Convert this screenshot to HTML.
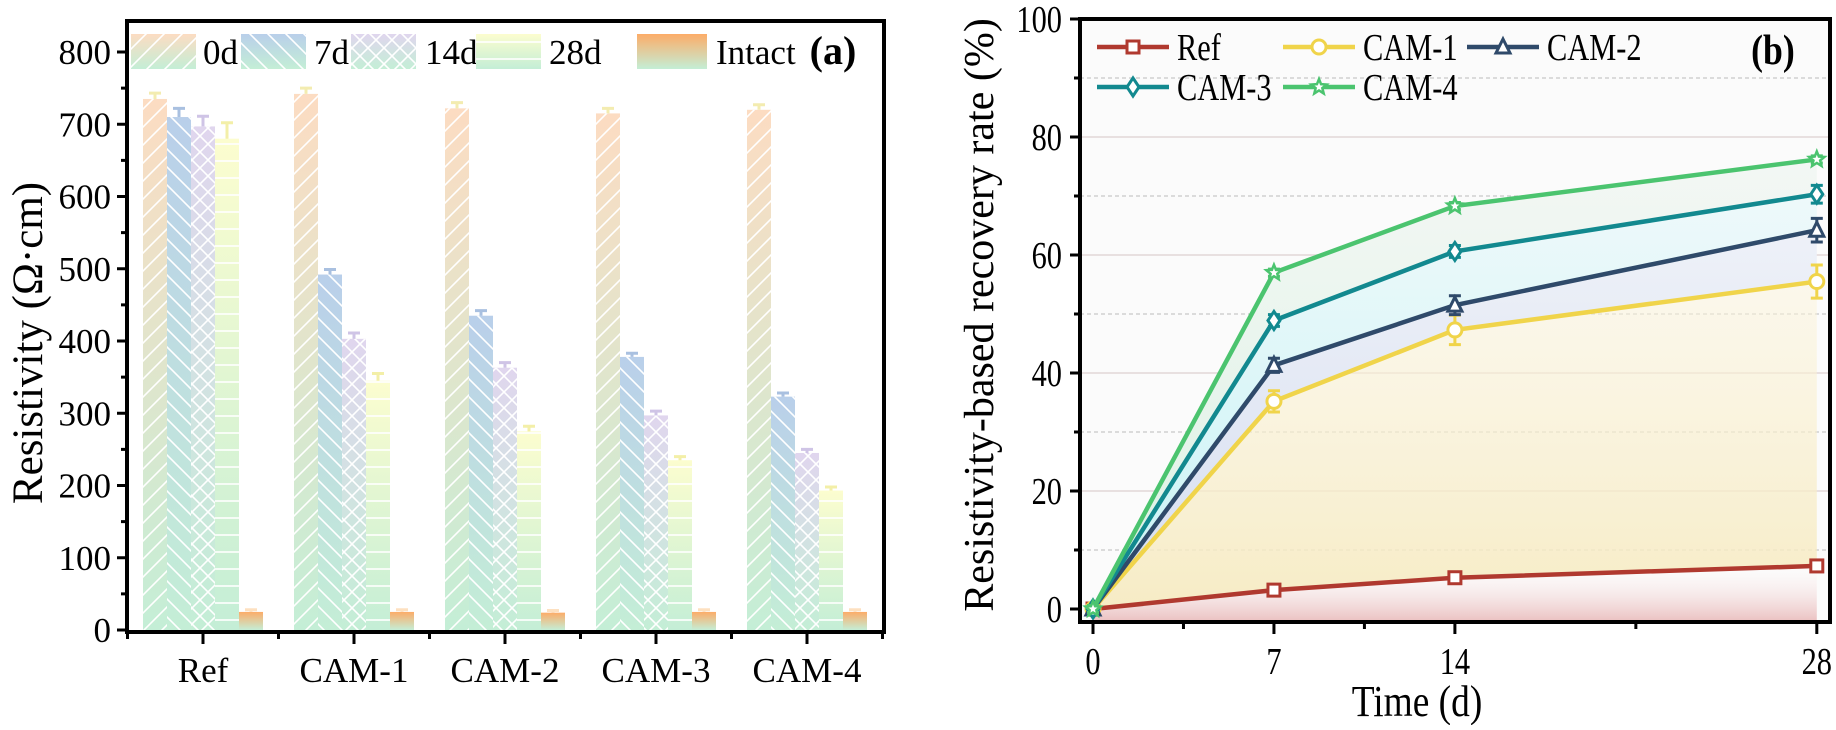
<!DOCTYPE html>
<html><head><meta charset="utf-8"><style>
html,body{margin:0;padding:0;background:#fff;}
svg, svg text{font-family:"Liberation Serif","DejaVu Serif",serif;}
</style></head><body>
<svg id="chart" width="1836" height="725" viewBox="0 0 1836 725" xmlns="http://www.w3.org/2000/svg" font-family="Liberation Serif, DejaVu Serif, serif">
<defs>
<linearGradient id="g0" x1="0" y1="0" x2="0" y2="1"><stop offset="0" stop-color="#fcdcc2"/><stop offset="1" stop-color="#c4eed6"/></linearGradient>
<linearGradient id="g1" x1="0" y1="0" x2="0" y2="1"><stop offset="0" stop-color="#b9cfea"/><stop offset="1" stop-color="#c4eed6"/></linearGradient>
<linearGradient id="g2" x1="0" y1="0" x2="0" y2="1"><stop offset="0" stop-color="#e0d6ee"/><stop offset="1" stop-color="#c4eed6"/></linearGradient>
<linearGradient id="g3" x1="0" y1="0" x2="0" y2="1"><stop offset="0" stop-color="#fcfdcf"/><stop offset="1" stop-color="#c4eed6"/></linearGradient>
<linearGradient id="g4" x1="0" y1="0" x2="0" y2="1"><stop offset="0" stop-color="#fcac68"/><stop offset="1" stop-color="#c4eed6"/></linearGradient>
<pattern id="p0" patternUnits="userSpaceOnUse" width="18" height="18"><path d="M-2,20 L20,-2 M-20,20 L2,-2" stroke="#fff" stroke-width="1.6"/><path d="M16,20 L38,-2" stroke="#fff" stroke-width="1.6"/></pattern>
<pattern id="p1" patternUnits="userSpaceOnUse" width="18" height="18"><path d="M-2,-2 L20,20 M16,-2 L38,20 M-20,-2 L2,20" stroke="#fff" stroke-width="1.6"/></pattern>
<pattern id="p2" patternUnits="userSpaceOnUse" width="16" height="16"><path d="M-2,-2 L18,18 M-2,18 L18,-2" stroke="#fff" stroke-width="1.6"/></pattern>
<pattern id="p3" patternUnits="userSpaceOnUse" width="16" height="17"><path d="M0,8 L16,8" stroke="#fff" stroke-width="1.6"/></pattern>
<linearGradient id="fRef" x1="0" y1="0" x2="0" y2="1"><stop offset="0" stop-color="#fff" stop-opacity="0.2"/><stop offset="1" stop-color="#e7b4b4" stop-opacity="0.8"/></linearGradient>
<linearGradient id="f1" x1="0" y1="0" x2="0" y2="1"><stop offset="0" stop-color="#fbf4dc" stop-opacity="0.5"/><stop offset="1" stop-color="#f6eabf" stop-opacity="0.9"/></linearGradient>
<linearGradient id="f2" x1="0" y1="0" x2="0" y2="1"><stop offset="0" stop-color="#eef1f8"/><stop offset="1" stop-color="#d6def0"/></linearGradient>
<linearGradient id="f3" x1="0" y1="0" x2="0" y2="1"><stop offset="0" stop-color="#eef9fa"/><stop offset="1" stop-color="#c8f3f6"/></linearGradient>
<linearGradient id="f4" x1="0" y1="0" x2="0" y2="1"><stop offset="0" stop-color="#f3f7f4"/><stop offset="1" stop-color="#dcf2e4"/></linearGradient>
</defs>
<g id="panelA"></g>
<g id="panelB"></g>
</svg>
<script>
// ---- Panel (a) data ----
const groupsA = ["Ref","CAM-1","CAM-2","CAM-3","CAM-4"];
const seriesA = ["0d","7d","14d","28d","Intact"];
const vals0d = [735,742,722,715,720];
const vals7d = [710,492,435,378,323];
const vals14d = [697,403,363,297,245];
const vals28d = [680,345,275,235,193];
const valsIntact = [25,25,24,25,25];
const err0d = [8,8,8,7,7];
const err7d = [12,7,7,5,5];
const err14d = [14,8,7,6,5];
const err28d = [22,10,7,5,5];
const errIntact = [3,3,3,3,3];
const ticksA = [0,100,200,300,400,500,600,700,800];
// ---- Panel (b) data ----
const daysB = [0,7,14,28];
const seriesB = ["Ref","CAM-1","CAM-2","CAM-3","CAM-4"];
const bRef = [0,3.2,5.3,7.3];
const bCam1 = [0,35.2,47.3,55.5];
const bCam2 = [0,41.3,51.5,64.2];
const bCam3 = [0,48.9,60.6,70.3];
const bCam4 = [0,57.0,68.3,76.2];
const eRef = [0.6,0.6,0.6,0.6];
const eCam1 = [0.6,1.8,2.5,2.8];
const eCam2 = [0.6,1.2,1.6,2.0];
const eCam3 = [0.6,1.0,1.0,1.5];
const eCam4 = [0.6,0.6,0.6,0.6];
const ticksBY = [0,20,40,60,80,100];
const ticksBX = [0,7,14,28];

const NS="http://www.w3.org/2000/svg";
const FF="Liberation Serif, DejaVu Serif, serif";
function mk(tag,attrs,parent,text){const e=document.createElementNS(NS,tag);for(const k in attrs)e.setAttribute(k,attrs[k]);if(tag==='text')e.setAttribute('font-family',FF);if(text!==undefined)e.textContent=text;parent.appendChild(e);return e;}

// ===== Panel A =====
const A=document.getElementById('panelA');
const aL=127,aR=884,aT=21,aB=632;
const yA=v=>630-v*0.7225;
const xA=i=>203+i*151;
const barW=24;
const valsA=[vals0d,vals7d,vals14d,vals28d,valsIntact];
const errsA=[err0d,err7d,err14d,err28d,errIntact];
const errCol=["#f3ecb0","#a9c0e0","#cfc4e6","#f3efa8","#fde0c0"];
for(let s=0;s<5;s++){
  for(let i=0;i<5;i++){
    const v=valsA[s][i];const x=xA(i)-60+s*barW;const y=yA(v);const h=yA(0)-y;
    const r=mk('rect',{x:x,y:y,width:barW,height:h,fill:`url(#g${s})`},A);
    
    
    if(s<4){const p=mk('rect',{x:x,y:y,width:barW,height:h,fill:`url(#p${s})`},A);
      }
    const e=errsA[s][i];const cx=x+barW/2;
    const eb=mk('path',{d:`M${cx},${yA(v)} V${yA(v+e)} M${cx-6},${yA(v+e)} H${cx+6}`,stroke:errCol[s],'stroke-width':3,fill:'none'},A);
    
  }
}
const fa=mk('rect',{x:aL,y:aT,width:aR-aL,height:aB-aT,fill:'none',stroke:'#000','stroke-width':4},A);

ticksA.forEach((t,i)=>{
  const y=yA(t);
  const tk=mk('line',{x1:aL-10,x2:aL,y1:y,y2:y,stroke:'#000','stroke-width':3},A);
  
  if(i<ticksA.length-1){const m=mk('line',{x1:aL-6,x2:aL,y1:yA(t+50),y2:yA(t+50),stroke:'#000','stroke-width':3},A);
    }
  const lb=mk('text',{x:aL-16,y:y+12,'text-anchor':'end','font-size':35},A,String(t));
  
});
groupsA.forEach((g,i)=>{
  const x=xA(i);
  const tk=mk('line',{x1:x,x2:x,y1:aB,y2:aB+12,stroke:'#000','stroke-width':3},A);
  
  const m=mk('line',{x1:x+75.5,x2:x+75.5,y1:aB,y2:aB+7,stroke:'#000','stroke-width':3},A);
  
  const lb=mk('text',{x:x,y:682,'text-anchor':'middle','font-size':35},A,g);
  
});
const m0=mk('line',{x1:aL+0.5,x2:aL+0.5,y1:aB,y2:aB+7,stroke:'#000','stroke-width':3},A);

const ytA=mk('text',{x:0,y:0,transform:'translate(42,343) rotate(-90)','text-anchor':'middle','font-size':43},A,'Resistivity (Ω·cm)');

const legBox=[131,241,351,476,637];
const legTxt=[203,314,425,549,716];
seriesA.forEach((s,i)=>{
  const g=mk('g',{},A);
  
  const w=i==4?70:65;
  mk('rect',{x:legBox[i],y:34,width:w,height:35,fill:`url(#g${i})`},g);
  if(i<4)mk('rect',{x:legBox[i],y:34,width:w,height:35,fill:`url(#p${i})`},g);
  mk('text',{x:legTxt[i],y:64,'font-size':35},g,s);
});
const la=mk('text',{x:833,y:64,'text-anchor':'middle','font-size':40,'font-weight':'bold'},A,'(a)');


// ===== Panel B =====
const B=document.getElementById('panelB');
const bL=1080,bR=1830,bT=19,bB=622;
const xB=d=>1093+d*25.85;
const yB=v=>609-v*5.9;
const bg=mk('rect',{x:bL,y:bT,width:bR-bL,height:bB-bT,fill:'#fbfbfb'},B);

for(let v=10;v<100;v+=10){
  const gl=mk('line',{x1:bL,x2:bR,y1:yB(v),y2:yB(v),stroke:v%20?'#c8c8c8':'#e8e0e0','stroke-width':v%20?1.2:2,'stroke-dasharray':v%20?'4,3':'none'},B);
  
}
const dataB=[bRef,bCam1,bCam2,bCam3,bCam4];
const errB=[eRef,eCam1,eCam2,eCam3,eCam4];
const colB=["#b0392f","#f0d44a","#2f4a6a","#12898f","#4bc46f"];
const fills=["fRef","f1","f2","f3","f4"];
const pts=arr=>arr.map((v,i)=>`${xB(daysB[i])},${yB(v)}`);
for(let s=0;s<5;s++){
  const upper=pts(dataB[s]);
  const lower=s==0?daysB.map(d=>`${xB(d)},${yB(-2)}`):pts(dataB[s-1]);
  const poly=mk('polygon',{points:upper.concat(lower.reverse()).join(' '),fill:`url(#${fills[s]})`},B);
  
}
function marker(s,x,y,parent){
  const c=colB[s];let m;
  if(s==0)m=mk('rect',{x:x-6,y:y-6,width:12,height:12,fill:'#fff',stroke:c,'stroke-width':3},parent);
  else if(s==1)m=mk('circle',{cx:x,cy:y,r:7,fill:'#fff',stroke:c,'stroke-width':3},parent);
  else if(s==2)m=mk('path',{d:`M${x},${y-8} L${x+7},${y+6} L${x-7},${y+6}Z`,fill:'#fff',stroke:c,'stroke-width':3},parent);
  else if(s==3)m=mk('path',{d:`M${x},${y-9} L${x+6},${y} L${x},${y+9} L${x-6},${y}Z`,fill:'#fff',stroke:c,'stroke-width':3},parent);
  else{let d='';for(let k=0;k<10;k++){const r=k%2?3.5:8;const a=-Math.PI/2+k*Math.PI/5;d+=(k?'L':'M')+(x+r*Math.cos(a))+','+(y+r*Math.sin(a));}
    m=mk('path',{d:d+'Z',fill:'#fff',stroke:c,'stroke-width':2.5},parent);}
  return m;
}
for(let s=0;s<5;s++){
  const g=mk('g',{},B);
  
  mk('polyline',{points:pts(dataB[s]).join(' '),fill:'none',stroke:colB[s],'stroke-width':4.5},g);
  dataB[s].forEach((v,i)=>{
    const x=xB(daysB[i]),e=errB[s][i];
    const eb=mk('path',{d:`M${x},${yB(v-e)} V${yB(v+e)} M${x-6},${yB(v-e)} H${x+6} M${x-6},${yB(v+e)} H${x+6}`,stroke:colB[s],'stroke-width':3,fill:'none'},g);
    
    const m=marker(s,x,yB(v),g);
    
    
  });
}
const fb=mk('rect',{x:bL,y:bT,width:bR-bL,height:bB-bT,fill:'none',stroke:'#000','stroke-width':4},B);

ticksBY.forEach((t,i)=>{
  const y=yB(t);
  const tk=mk('line',{x1:bL-10,x2:bL,y1:y,y2:y,stroke:'#000','stroke-width':3},B);
  
  if(i<ticksBY.length-1){const m=mk('line',{x1:bL-6,x2:bL,y1:yB(t+10),y2:yB(t+10),stroke:'#000','stroke-width':3},B);
    }
  const lb=mk('text',{x:bL-18,y:y+13,'text-anchor':'end','font-size':38,transform:`translate(${(bL-18)*0.2},0) scale(0.8,1)`},B,String(t));
  
});
ticksBX.forEach(t=>{
  const x=xB(t);
  const tk=mk('line',{x1:x,x2:x,y1:bB,y2:bB+12,stroke:'#000','stroke-width':3},B);
  
  const lb=mk('text',{x:x,y:674,'text-anchor':'middle','font-size':38,transform:`translate(${x*0.2},0) scale(0.8,1)`},B,String(t));
  
});
[3.5,10.5,21].forEach(t=>{const x=xB(t);
  const m=mk('line',{x1:x,x2:x,y1:bB,y2:bB+7,stroke:'#000','stroke-width':3},B);
  });
const xtB=mk('text',{x:1417,y:716,'text-anchor':'middle','font-size':44,transform:`translate(${1417*0.15},0) scale(0.85,1)`},B,'Time (d)');

const ytB=mk('text',{x:0,y:0,transform:'translate(993,315) rotate(-90)','text-anchor':'middle','font-size':42},B,'Resistivity-based recovery rate (%)');

const legX=[1097,1283,1467,1097,1283];
const legY=[47,47,47,87,87];
seriesB.forEach((s,i)=>{
  const g=mk('g',{},B);
  
  mk('line',{x1:legX[i],x2:legX[i]+72,y1:legY[i],y2:legY[i],stroke:colB[i],'stroke-width':4.5},g);
  marker(i,legX[i]+36,legY[i],g);
  mk('text',{x:legX[i]+80,y:legY[i]+13,'font-size':38,transform:`translate(${(legX[i]+80)*0.2},0) scale(0.8,1)`},g,s);
});
const lbB=mk('text',{x:1773,y:64,'text-anchor':'middle','font-size':42,'font-weight':'bold',transform:`translate(${1773*0.15},0) scale(0.85,1)`},B,'(b)');

</script>
</body></html>
